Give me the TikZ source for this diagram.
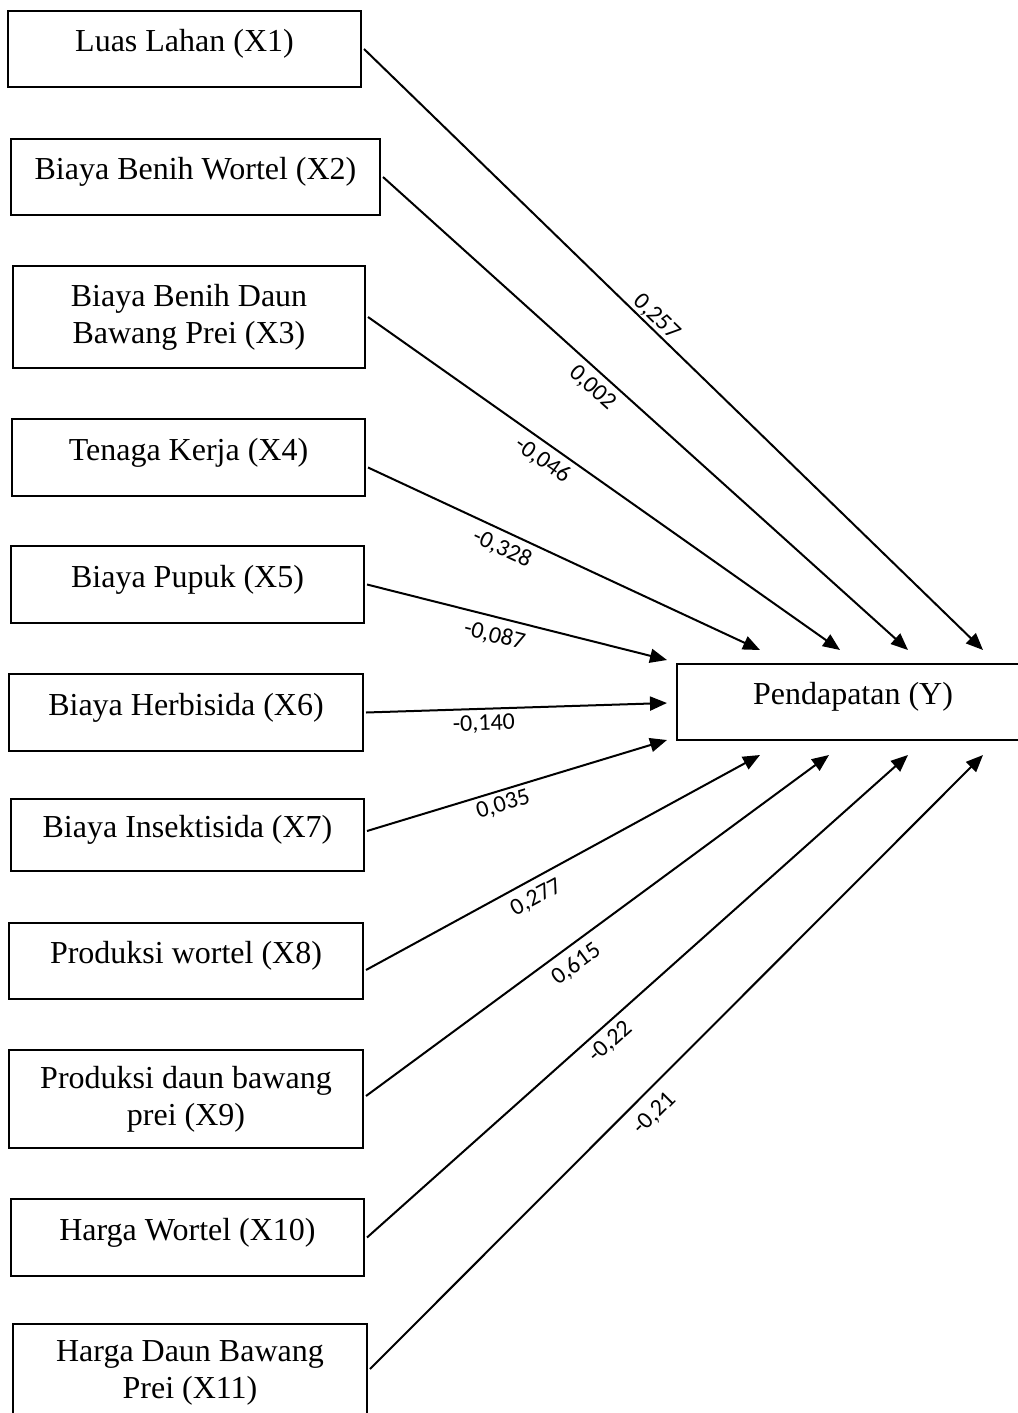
\documentclass[tikz,border=0pt]{standalone}
\usepackage{fontspec}
\setmainfont{Liberation Serif}
\newfontfamily\coeffont{Carlito}
\usetikzlibrary{arrows.meta, positioning, calc}

\tikzset{
  varbox/.style={draw, line width=2pt, anchor=north west, align=center, inner sep=0pt,
    font=\fontsize{32}{37}\selectfont},
  oneline/.style={text height=22pt, text depth=17pt},
  effect/.style={line width=2pt, -{Triangle[length=17pt,width=14pt]}},
  coef/.style={font=\coeffont\fontsize{24}{28}\selectfont, sloped}
}

\begin{document}
\begin{tikzpicture}[x=1pt,y=-1pt]
        \useasboundingbox (0,0) rectangle (1017,1413);
        \node[varbox, oneline, minimum width=353pt, minimum height=76pt] (x1) at (7,10) {Luas Lahan (X1)};
        \node[varbox, oneline, minimum width=369pt, minimum height=76pt] (x2) at (10,138) {Biaya Benih Wortel (X2)};
        \node[varbox, minimum width=352pt, minimum height=102pt] (x3) at (12,265) {Biaya Benih Daun\\Bawang Prei (X3)};
        \node[varbox, oneline, minimum width=353pt, minimum height=77pt] (x4) at (11,418) {Tenaga Kerja (X4)};
        \node[varbox, oneline, minimum width=353pt, minimum height=77pt] (x5) at (10,545) {Biaya Pupuk (X5)};
        \node[varbox, oneline, minimum width=354pt, minimum height=77pt] (x6) at (8,673) {Biaya Herbisida (X6)};
        \node[varbox, oneline, minimum width=353pt, minimum height=72pt] (x7) at (10,798) {Biaya Insektisida (X7)};
        \node[varbox, oneline, minimum width=354pt, minimum height=76pt] (x8) at (8,922) {Produksi wortel (X8)};
        \node[varbox, minimum width=354pt, minimum height=98pt] (x9) at (8,1049) {Produksi daun bawang\\prei (X9)};
        \node[varbox, oneline, minimum width=353pt, minimum height=77pt] (x10) at (10,1198) {Harga Wortel (X10)};
        \node[varbox, minimum width=354pt, minimum height=98pt] (x11) at (12,1323) {Harga Daun Bawang\\Prei (X11)};
        \node[varbox, oneline, minimum width=352pt, minimum height=76pt] (y) at (676,663) {Pendapatan (Y)};

        \coordinate (tx1) at ($(y.north west)+(307,-13)$);
        \coordinate (tx2) at ($(y.north west)+(232,-13)$);
        \coordinate (tx3) at ($(y.north west)+(164,-13)$);
        \coordinate (tx4) at ($(y.north west)+(84,-13)$);
        \coordinate (tx5) at ($(y.north west)+(-9,-3)$);
        \coordinate (tx6) at ($(y.north west)+(-9,40)$);
        \coordinate (tx7) at ($(y.north west)+(-9,77)$);
        \coordinate (tx8) at ($(y.south west)+(84,14)$);
        \coordinate (tx9) at ($(y.south west)+(153,14)$);
        \coordinate (tx10) at ($(y.south west)+(232,14)$);
        \coordinate (tx11) at ($(y.south west)+(307,14)$);

        \foreach \src/\dy/\val/\side/\sep/\p in {
            x1/0/{0,257}/south/1pt/0.46, x2/0/{0,002}/north/6pt/0.42,
            x3/0/{-0,046}/north/6pt/0.39, x4/10/{-0,328}/north/6pt/0.36,
            x5/0/{-0,087}/north/8pt/0.44, x6/0/{-0,140}/north/5pt/0.39,
            x7/-4/{0,035}/north/4pt/0.44, x8/9/{0,277}/north/8pt/0.41,
            x9/-3/{0,615}/north/8pt/0.43, x10/0/{-0,22}/north/6pt/0.43,
            x11/-4/{-0,21}/north/11pt/0.44}
          \draw[effect] ($(\src.east)+(2,\dy)$) -- (t\src)
            node[coef, anchor=\side, inner sep=\sep, pos=\p] {\val};
\end{tikzpicture}
\end{document}
